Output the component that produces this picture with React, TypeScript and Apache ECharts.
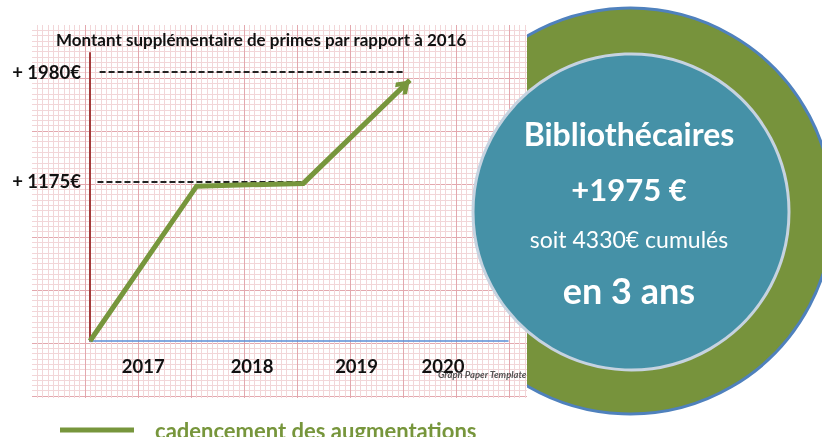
import React, { useEffect, useRef } from "react";
import * as echarts from "echarts";

const seriesName = "cadencement des augmentations";
const chartTitle = "Montant supplémentaire de primes par rapport à 2016";
const xPoints = [0, 1, 2, 3];
const yValues = [0, 1140, 1160, 1920];
const years = ["2017", "2018", "2019", "2020"];
const yearPos = [0.5, 1.52, 2.5, 3.31];
const refLevels = [1980, 1175];
const refFrom = [0.09, 0.07];
const refTo = [2.94, 2.0];
const circleLines = ["Bibliothécaires", "+1975 €", "soit 4330€ cumulés", "en 3 ans"];
const paperNote = "Graph Paper Template";

const GREEN = "#77963c";
const FONT = "Lato";
const ARROW = "path://M10,0 L10,0.01 Z M10,14 L20,24 L16.6,27.4 L10,20.8 L3.4,27.4 L0,24 Z";

function buildData(rot: number) {
  return xPoints.map((x, i) =>
    i === xPoints.length - 1
      ? { value: [x, yValues[i]], symbol: ARROW, symbolSize: [22, 31], symbolRotate: rot, symbolKeepAspect: true }
      : { value: [x, yValues[i]], symbol: "none" }
  );
}

export default function App() {
  const ref = useRef<HTMLDivElement>(null);
  useEffect(() => {
    if (!ref.current) return;
    const chart = echarts.init(ref.current, null, { renderer: "svg" });
    const option: any = {
      animation: false,
      title: {
        text: chartTitle,
        left: 51,
        top: 26,
        textStyle: { fontFamily: FONT, fontSize: 17, fontWeight: "bold", color: "#111" },
      },
      legend: {
        data: [seriesName],
        left: 55,
        top: 414,
        icon: "rect",
        itemWidth: 74,
        itemHeight: 5,
        formatter: (n: string) => "   " + n,
        textStyle: { fontFamily: FONT, fontSize: 22, fontWeight: "bold", color: GREEN },
      },
      grid: [
        { left: 32, right: 295, top: 25, bottom: 39 },
        { left: 90, right: 314, top: 53, bottom: 96 },
      ],
      xAxis: [
        {
          gridIndex: 0,
          type: "value",
          min: -0.57,
          max: 92.8,
          interval: 10,
          axisLine: { show: false },
          axisTick: { show: false },
          axisLabel: { show: false },
          splitLine: { show: true, showMinLine: false, showMaxLine: false, lineStyle: { color: "#e3a8ae", width: 1 } },
          minorTick: { show: false, splitNumber: 10 },
          minorSplitLine: { show: true, lineStyle: { color: "#f2d6d8", width: 1 } },
        },
        {
          gridIndex: 1,
          type: "value",
          min: 0,
          max: 3.92,
          axisLine: { show: true, onZero: true, lineStyle: { color: "#5b8fd6", width: 1.5 } },
          axisTick: { show: false },
          splitLine: { show: false },
          axisLabel: {
            customValues: yearPos,
            formatter: (v: number) => {
              const i = yearPos.findIndex((p) => Math.abs(p - v) < 1e-6);
              return i >= 0 ? years[i] : "";
            },
            fontFamily: FONT,
            fontSize: 18.5,
            fontWeight: "bold",
            color: "#111",
            margin: 15,
          },
        },
      ],
      yAxis: [
        {
          gridIndex: 0,
          type: "value",
          inverse: true,
          min: 0.566,
          max: 70.94,
          interval: 10,
          axisLine: { show: false },
          axisTick: { show: false },
          axisLabel: { show: false },
          splitLine: { show: true, showMinLine: false, showMaxLine: false, lineStyle: { color: "#e3a8ae", width: 1 } },
          minorTick: { show: false, splitNumber: 10 },
          minorSplitLine: { show: true, lineStyle: { color: "#f2d6d8", width: 1 } },
        },
        {
          gridIndex: 1,
          type: "value",
          min: 0,
          max: 2120,
          axisLine: { show: true, lineStyle: { color: "#a33b3b", width: 2 } },
          axisTick: { show: false },
          splitLine: { show: false },
          axisLabel: {
            customValues: refLevels,
            formatter: (v: number) => `+ ${v}€`,
            fontFamily: FONT,
            fontSize: 18.5,
            fontWeight: "bold",
            color: "#111",
            margin: 9,
          },
        },
      ],
      series: [
        {
          name: seriesName,
          type: "line",
          xAxisIndex: 1,
          yAxisIndex: 1,
          showSymbol: true,
          symbol: "none",
          z: 5,
          color: GREEN,
          lineStyle: { color: GREEN, width: 5, join: "miter" },
          itemStyle: { color: GREEN },
          data: buildData(-47),
          markLine: {
            silent: true,
            symbol: ["none", "none"],
            label: { show: false },
            lineStyle: { color: "#222", width: 2, type: [6, 3] },
            data: refLevels.map((lv, i) => [
              { coord: [refFrom[i], lv] },
              { coord: [refTo[i], lv] },
            ]),
          },
        },
      ],
      graphic: [
        {
          type: "circle",
          z: -2,
          shape: { cx: 630, cy: 211, r: 203 },
          style: { fill: "#77933c", stroke: "#4f81bd", lineWidth: 3 },
        },
        {
          type: "rect",
          z: -1,
          shape: { x: 32, y: 25, width: 495, height: 373 },
          style: { fill: "#ffffff" },
        },
        {
          type: "circle",
          z: 50,
          shape: { cx: 631, cy: 212, r: 158 },
          style: { fill: "#4591a7", stroke: "#c6d3e0", lineWidth: 3 },
        },
        ...circleLines.map((t, i) => ({
          type: "text",
          z: 51,
          x: 629,
          y: [133, 189, 239, 290][i],
          style: {
            text: t,
            fill: "#ffffff",
            font: `${i === 2 ? "normal" : "bold"} ${[32, 31, 23, 36][i]}px ${FONT}`,
            textAlign: "center",
            textVerticalAlign: "middle",
          },
        })),
        {
          type: "text",
          z: 3,
          x: 438,
          y: 374,
          style: {
            text: paperNote,
            fill: "#555",
            font: `italic bold 9.5px ${FONT}`,
            textAlign: "left",
            textVerticalAlign: "middle",
          },
        },
      ],
    };
    chart.setOption(option);
    const p2 = chart.convertToPixel({ seriesIndex: 0 }, [xPoints[2], yValues[2]]) as number[];
    const p3 = chart.convertToPixel({ seriesIndex: 0 }, [xPoints[3], yValues[3]]) as number[];
    if (p2 && p3) {
      const ang = (Math.atan2(p2[1] - p3[1], p3[0] - p2[0]) * 180) / Math.PI;
      chart.setOption({ series: [{ data: buildData(ang - 90) }] });
    }
    return () => chart.dispose();
  }, []);
  return <div ref={ref} style={{ position: "fixed", left: 0, top: 0, width: 822, height: 437 }} />;
}
